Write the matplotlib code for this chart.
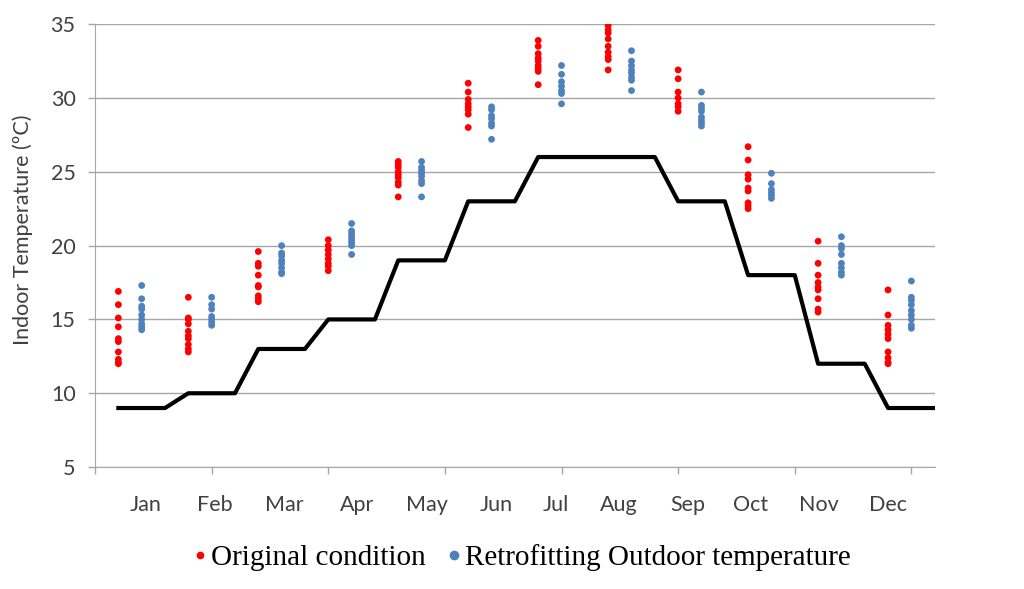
import numpy as np
import matplotlib.pyplot as plt
from matplotlib.lines import Line2D

months = ["Jan", "Feb", "Mar", "Apr", "May", "Jun",
          "Jul", "Aug", "Sep", "Oct", "Nov", "Dec"]
# Positions des étiquettes de mois
month_label_pos = [2.15, 5.15, 8.1, 11.25, 14.25, 17.2,
                   19.75, 22.45, 25.4, 28.1, 31.05, 34.0]

# Température extérieure (3 points par mois)
outdoor = [9, 9, 9, 10, 10, 10, 13, 13, 13, 15, 15, 15,
           19, 19, 19, 23, 23, 23, 26, 26, 26, 26, 26, 26,
           23, 23, 23, 18, 18, 18, 12, 12, 12, 9, 9, 9]

original = [
    [16.9, 16.0, 15.1, 14.5, 13.7, 13.5, 12.8, 12.3, 12.1, 12.0],
    [16.5, 15.1, 15.0, 14.7, 14.2, 13.9, 13.7, 13.3, 13.0, 12.8],
    [19.6, 18.8, 18.6, 18.0, 17.3, 17.2, 16.6, 16.4, 16.2],
    [20.4, 20.0, 19.7, 19.4, 19.1, 18.8, 18.6, 18.3],
    [25.7, 25.5, 25.3, 25.0, 24.8, 24.6, 24.3, 24.1, 23.3],
    [31.0, 30.4, 29.9, 29.6, 29.4, 29.2, 28.9, 28.0],
    [33.9, 33.5, 33.0, 32.7, 32.5, 32.2, 32.0, 31.8, 30.9],
    [34.9, 34.6, 34.4, 34.0, 33.5, 33.1, 32.8, 32.6, 31.9],
    [31.9, 31.3, 30.4, 30.0, 29.6, 29.4, 29.1],
    [26.7, 25.8, 24.8, 24.5, 23.9, 23.7, 22.9, 22.7, 22.5],
    [20.3, 18.8, 18.0, 17.5, 17.2, 17.0, 16.4, 15.7, 15.5],
    [17.0, 15.3, 14.6, 14.3, 14.0, 13.7, 12.8, 12.4, 12.1, 12.0],
]

retrofit = [
    [17.3, 16.4, 15.9, 15.7, 15.3, 15.0, 14.7, 14.5, 14.3],
    [16.5, 16.0, 15.7, 15.2, 15.0, 14.8, 14.6],
    [20.0, 19.5, 19.3, 19.0, 18.8, 18.5, 18.2, 18.1],
    [21.5, 21.0, 20.8, 20.6, 20.4, 20.2, 20.0, 19.4],
    [25.7, 25.3, 25.1, 24.9, 24.7, 24.4, 24.2, 23.3],
    [29.4, 29.2, 28.8, 28.6, 28.3, 28.1, 27.2],
    [32.2, 31.6, 31.1, 30.8, 30.5, 30.3, 29.6],
    [33.2, 32.5, 32.2, 31.9, 31.7, 31.4, 31.2, 30.5],
    [30.4, 29.5, 29.3, 29.1, 28.7, 28.5, 28.3, 28.1],
    [24.9, 24.2, 23.8, 23.6, 23.4, 23.2],
    [20.6, 20.0, 19.8, 19.4, 18.8, 18.5, 18.2, 18.0],
    [17.6, 16.5, 16.3, 16.0, 15.6, 15.3, 15.0, 14.6, 14.4],
]

red = '#ff0000'
blue = '#4f81bd'
gray = '#a6a6a6'
txt = '#404040'

fig = plt.figure(figsize=(10.24, 5.89), dpi=100)
ax = fig.add_axes([0.0928, 0.207, 0.820, 0.752])

x_line = np.arange(1, len(outdoor) + 1)
ax.plot(x_line, outdoor, color='black', linewidth=3, zorder=3)

for i in range(12):
    ax.scatter([3 * i + 1] * len(original[i]), original[i], s=24, color=red,
               edgecolors='none', zorder=4)
    ax.scatter([3 * i + 2] * len(retrofit[i]), retrofit[i], s=24, color=blue,
               edgecolors='none', zorder=4)

ax.set_xlim(0, 36)
ax.set_ylim(5, 35)
ax.set_yticks(range(5, 36, 5))
ax.yaxis.grid(True, color=gray, linewidth=1)
ax.set_axisbelow(True)

ax.set_xticks(month_label_pos)
ax.set_xticklabels(months)
ax.set_xticks(range(0, 36, 5), minor=True)
ax.tick_params(axis='x', which='major', length=0, pad=20, labelsize=15.5, labelcolor=txt)
ax.tick_params(axis='x', which='minor', length=5, color=gray, width=1)
ax.tick_params(axis='y', length=5, color=gray, width=1, pad=9, labelsize=15.5, labelcolor=txt)
for lab in ax.get_xticklabels() + ax.get_yticklabels():
    lab.set_family('Lato')

for s in ['top', 'right']:
    ax.spines[s].set_visible(False)
ax.spines['left'].set_color(gray)
ax.spines['bottom'].set_color(gray)

ax.set_ylabel("Indoor Temperature (ºC)", fontsize=15.5, color=txt, family='Lato')
ax.yaxis.set_label_coords(-0.074, 0.535)

handles = [
    Line2D([], [], marker='o', linestyle='none', color=red, markersize=4.5),
    Line2D([], [], marker='o', linestyle='none', color=blue, markersize=6),
]
fig.legend(handles, ["Original condition", "Retrofitting Outdoor temperature"],
           loc='center', bbox_to_anchor=(0.508, 0.053), ncol=2, frameon=False,
           prop={'family': 'Liberation Serif', 'size': 21},
           handletextpad=0.05, columnspacing=0.6, handlelength=0.7)

fig.savefig('out.png', dpi=100)
